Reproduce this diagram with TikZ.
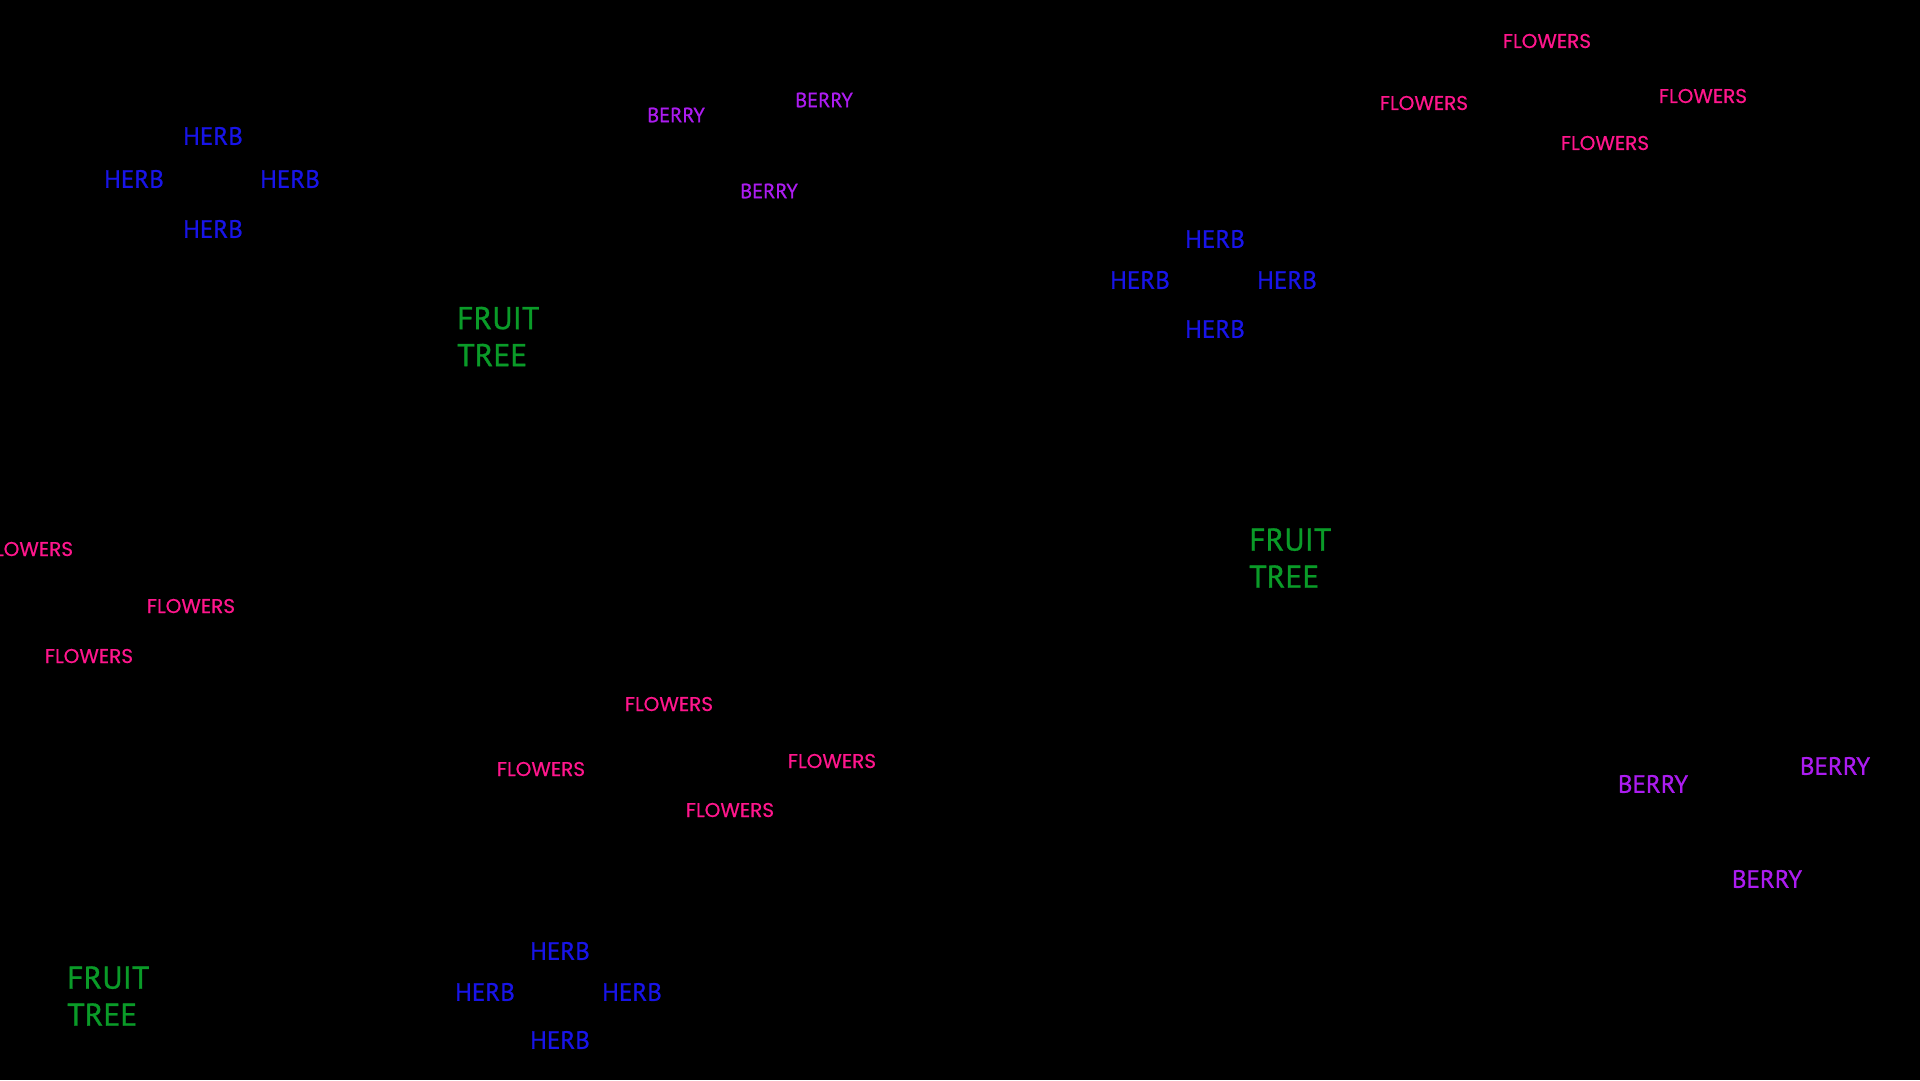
\documentclass[tikz,border=0pt]{standalone}
\usepackage{fontspec}
\setmainfont{PT Sans}
\newfontfamily\labelfont{PT Sans}[FakeBold=0.9]
\newfontfamily\flowerfont{Poppins}[FakeBold=0.5]

\definecolor{herbblue}{RGB}{24,20,232}
\definecolor{treegreen}{RGB}{10,155,40}
\definecolor{flowerpink}{RGB}{255,22,140}
\definecolor{berrypurple}{RGB}{172,28,240}

\begin{document}
\begin{tikzpicture}[x=1pt,y=-1pt,
  herb/.style={herbblue,inner sep=0pt,font=\labelfont\fontsize{25}{30}\selectfont},
  berrysmall/.style={berrypurple,inner sep=0pt,font=\labelfont\fontsize{20.5}{25}\selectfont},
  berrybig/.style={berrypurple,inner sep=0pt,font=\labelfont\fontsize{25}{30}\selectfont},
  flower/.style={flowerpink,inner sep=0pt,font=\flowerfont\fontsize{20}{24}\selectfont},
  tree/.style={treegreen,inner sep=0pt,anchor=west,align=left,font=\labelfont\fontsize{31.5}{37}\selectfont}]
  \fill[black] (0,0) rectangle (1920,1080);
  \clip (0,0) rectangle (1920,1080);
  % herbs, top left
  \node[herb] (herbAn) at (213,136) {HERB};
  \node[herb] (herbAw) at (134,179) {HERB};
  \node[herb] (herbAe) at (290,179) {HERB};
  \node[herb] (herbAs) at (213,229) {HERB};
  % herbs, middle
  \node[herb] (herbBn) at (1215,239) {HERB};
  \node[herb] (herbBw) at (1140,280) {HERB};
  \node[herb] (herbBe) at (1287,280) {HERB};
  \node[herb] (herbBs) at (1215,329) {HERB};
  % herbs, bottom
  \node[herb] (herbCn) at (560,951) {HERB};
  \node[herb] (herbCw) at (485,992) {HERB};
  \node[herb] (herbCe) at (632,992) {HERB};
  \node[herb] (herbCs) at (560,1040) {HERB};
  % berries
  \node[berrysmall] (berryA1) at (676,115) {BERRY};
  \node[berrysmall] (berryA2) at (824,100) {BERRY};
  \node[berrysmall] (berryA3) at (769,191) {BERRY};
  \node[berrybig] (berryB1) at (1653,784) {BERRY};
  \node[berrybig] (berryB2) at (1835,766) {BERRY};
  \node[berrybig] (berryB3) at (1767,879) {BERRY};
  % flowers
  \node[flower] (flowerA1) at (29,549) {FLOWERS};
  \node[flower] (flowerA2) at (191,606) {FLOWERS};
  \node[flower] (flowerA3) at (89,656) {FLOWERS};
  \node[flower] (flowerB1) at (1547,41) {FLOWERS};
  \node[flower] (flowerB2) at (1424,103) {FLOWERS};
  \node[flower] (flowerB3) at (1703,96) {FLOWERS};
  \node[flower] (flowerB4) at (1605,143) {FLOWERS};
  \node[flower] (flowerC1) at (669,704) {FLOWERS};
  \node[flower] (flowerC2) at (541,769) {FLOWERS};
  \node[flower] (flowerC3) at (832,761) {FLOWERS};
  \node[flower] (flowerC4) at (730,810) {FLOWERS};
  % fruit trees
  \node[tree] (treeA) at (457,336.5) {FRUIT\\TREE};
  \node[tree] (treeB) at (1249,558) {FRUIT\\TREE};
  \node[tree] (treeC) at (67,996) {FRUIT\\TREE};
\end{tikzpicture}
\end{document}
